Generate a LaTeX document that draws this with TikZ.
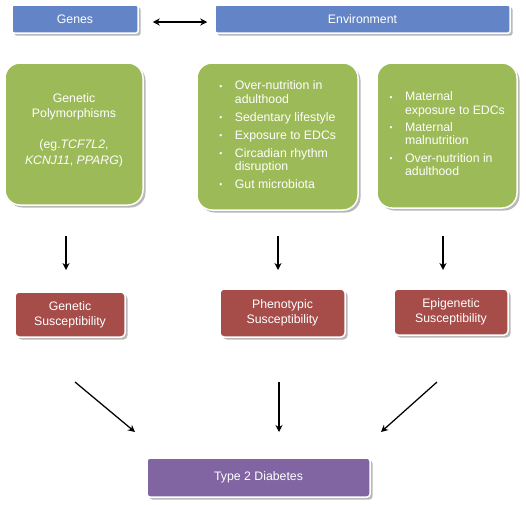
\documentclass[tikz,border=0pt]{standalone}
\usepackage{fontspec}
\setmainfont{Liberation Sans}
\usetikzlibrary{shadows,arrows.meta}
\definecolor{cblue}{HTML}{6384C6}
\definecolor{cgreen}{HTML}{9DBA58}
\definecolor{cred}{HTML}{A64D4A}
\definecolor{cpurple}{HTML}{8065A2}
\newcommand{\bul}{\makebox[16pt][l]{\hspace{0.5pt}\raisebox{0.6pt}{\fontsize{8.5}{8.5}\selectfont •}}}
\tikzset{
  box/.style={draw=white, line width=1.5pt, text=white, align=center, inner sep=0pt,
    drop shadow={shadow xshift=2.5pt, shadow yshift=-2.5pt, fill=black!55},
    font=\fontsize{12.3}{15}\selectfont},
  bluebox/.style={box, fill=cblue, rounded corners=2pt},
  greenbox/.style={box, fill=cgreen, rounded corners=15pt, font=\fontsize{12.3}{13.3}\selectfont},
  redbox/.style={box, fill=cred, rounded corners=4pt},
  purplebox/.style={box, fill=cpurple, rounded corners=3pt},
  lbl/.style={text=white, align=center, inner sep=0pt, font=\fontsize{12.3}{15.5}\selectfont},
  arr/.style={line width=1.25pt, -{Stealth[length=7pt,width=7pt]}},
  darr/.style={line width=1.25pt, {Stealth[length=7pt,width=7pt]}-{Stealth[length=7pt,width=7pt]}}
}
\begin{document}
\begin{tikzpicture}[x=1pt,y=-1pt]
\useasboundingbox (0,0) rectangle (526,504);
% top row
\node[bluebox, minimum width=126pt, minimum height=28pt] (genes) at (75,19) {Genes};
\node[bluebox, minimum width=295pt, minimum height=28pt] (env) at (362.5,19) {Environment};
\draw[darr] ([xshift=14pt,yshift=-3pt]genes.east) -- ([xshift=-7pt,yshift=-3pt]env.west);
% green boxes
\node[greenbox, minimum width=138pt, minimum height=142pt] (g1) at (74,134) {};
\node[lbl] (g1t) at (74,130) {Genetic\\Polymorphisms\\[15.5pt](eg.\textit{TCF7L2},\\\textit{KCNJ11}, \textit{PPARG})};
\node[greenbox, minimum width=161pt, minimum height=147pt] (g2) at (277.5,136.5) {%
\begin{tabular}{@{}l@{}l@{}}
\bul & Over-nutrition in\\
 & adulthood\\[4.7pt]
\bul & Sedentary lifestyle\\[4.7pt]
\bul & Exposure to EDCs\\[4.7pt]
\bul & Circadian rhythm\\
 & disruption\\[4.7pt]
\bul & Gut microbiota
\end{tabular}};
\node[greenbox, minimum width=140pt, minimum height=145pt] (g3) at (447,135.5) {%
\begin{tabular}{@{}l@{}l@{}}
\bul & Maternal\\
 & exposure to EDCs\\[4.2pt]
\bul & Maternal\\
 & malnutrition\\[4.2pt]
\bul & Over-nutrition in\\
 & adulthood
\end{tabular}};
% red boxes
\node[redbox, minimum width=110pt, minimum height=45pt] (r1) at (70,314.5) {Genetic\\Susceptibility};
\node[redbox, minimum width=125pt, minimum height=48pt] (r2) at (282.5,313) {Phenotypic\\Susceptibility};
\node[redbox, minimum width=114pt, minimum height=46pt] (r3) at (451,312) {Epigenetic\\Susceptibility};
% purple
\node[purplebox, minimum width=223pt, minimum height=39pt] (t2d) at (258.5,477.5) {Type 2 Diabetes};
% arrow coordinates
\coordinate (a1s) at (66,236); \coordinate (a1e) at (66,270);
\coordinate (a2s) at (278,236); \coordinate (a2e) at (278,270);
\coordinate (a3s) at (443,236); \coordinate (a3e) at (443,270);
\coordinate (b1s) at (75,382); \coordinate (b1e) at (135,432);
\coordinate (b2s) at (279,382); \coordinate (b2e) at (279,432);
\coordinate (b3s) at (437,382); \coordinate (b3e) at (381,432);
\draw[arr] (a1s) -- (a1e);
\draw[arr] (a2s) -- (a2e);
\draw[arr] (a3s) -- (a3e);
\draw[arr] (b1s) -- (b1e);
\draw[arr] (b2s) -- (b2e);
\draw[arr] (b3s) -- (b3e);
\end{tikzpicture}
\end{document}
